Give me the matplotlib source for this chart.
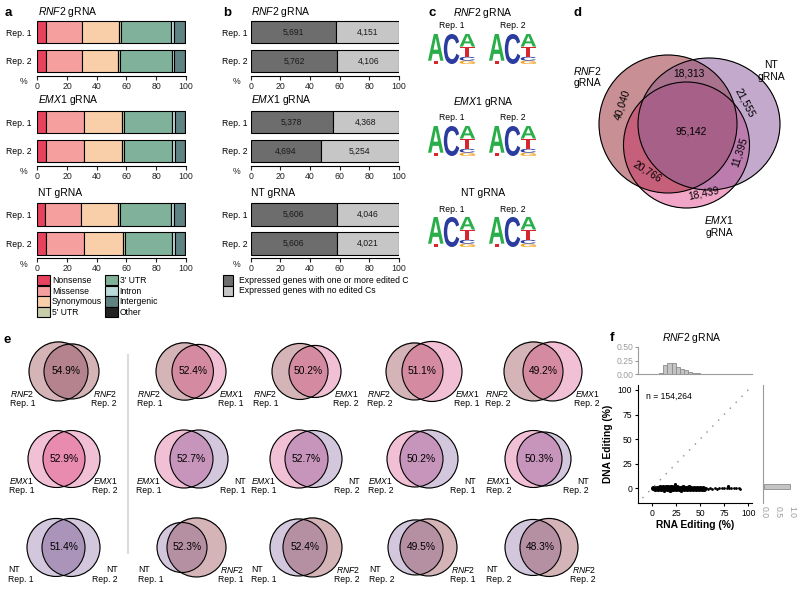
import numpy as np
import matplotlib.pyplot as plt
from matplotlib.patches import Rectangle, Ellipse, PathPatch
from matplotlib.textpath import TextPath
from matplotlib.font_manager import FontProperties
from matplotlib.transforms import Affine2D
from matplotlib.colors import to_rgba

plt.rcParams['font.family'] = ['Liberation Sans', 'DejaVu Sans']
plt.rcParams['mathtext.fontset'] = 'custom'
plt.rcParams['mathtext.it'] = 'Liberation Sans:italic'
plt.rcParams['mathtext.rm'] = 'Liberation Sans'
plt.rcParams['mathtext.bf'] = 'Liberation Sans:bold'

# ---------------- data ----------------
guides = ['RNF2', 'EMX1', 'NT']
reps = ['Rep. 1', 'Rep. 2']

# a: share (%) of edited Cs per annotation class, one row per replicate
categories = ['Nonsense', 'Missense', 'Synonymous', "5' UTR", "3' UTR", 'Intron', 'Intergenic', 'Other']
cat_colors = ['#E8435E', '#F5A09F', '#F9CFA9', '#C9CCA8', '#80B19B', '#BBDADA', '#5F8383', '#222222']
rnf2_annot = [[5.6, 24.5, 25.0, 1.5, 33.7, 1.8, 7.5, 0.4],
              [5.6, 24.3, 24.7, 1.4, 34.6, 1.8, 7.2, 0.4]]
emx1_annot = [[5.8, 25.4, 25.9, 1.6, 32.1, 1.8, 7.0, 0.4],
              [5.8, 25.4, 25.7, 1.5, 32.4, 1.8, 7.0, 0.4]]
nt_annot = [[5.2, 24.5, 24.7, 1.1, 34.8, 1.8, 7.5, 0.4],
            [5.8, 25.9, 25.8, 1.8, 31.7, 1.6, 7.0, 0.4]]

# b: expressed genes with / without edited C
rnf2_genes = [[5691, 4151], [5762, 4106]]
emx1_genes = [[5378, 4368], [4694, 5254]]
nt_genes = [[5606, 4046], [5606, 4021]]
gene_labels = ['Expressed genes with one or more edited C', 'Expressed genes with no edited Cs']
gene_colors = ['#6D6D6D', '#C6C6C6']

# c: sequence logo (letter, fraction), bottom to top
logo_pos1 = [('T', 0.11), ('A', 0.89)]
logo_pos2 = [('C', 1.0)]
logo_pos3 = [('G', 0.11), ('C', 0.13), ('T', 0.34), ('A', 0.42)]
base_colors = {'A': '#2AAE4A', 'C': '#2B3C9E', 'G': '#F5A11C', 'T': '#D7262D'}

# d: three-way overlap of edited sites
venn3_regions = ['RNF2', 'NT', 'EMX1', 'RNF2&NT', 'RNF2&EMX1', 'NT&EMX1', 'RNF2&NT&EMX1']
venn3_counts = [40040, 21555, 18439, 18313, 20766, 11395, 95142]

# e: pairwise overlaps (left set, right set, % overlap)
e_left = [('RNF2', 'Rep. 1'), ('RNF2', 'Rep. 1'), ('RNF2', 'Rep. 1'), ('RNF2', 'Rep. 2'), ('RNF2', 'Rep. 2'),
          ('EMX1', 'Rep. 1'), ('EMX1', 'Rep. 1'), ('EMX1', 'Rep. 1'), ('EMX1', 'Rep. 2'), ('EMX1', 'Rep. 2'),
          ('NT', 'Rep. 1'), ('NT', 'Rep. 1'), ('NT', 'Rep. 1'), ('NT', 'Rep. 2'), ('NT', 'Rep. 2')]
e_right = [('RNF2', 'Rep. 2'), ('EMX1', 'Rep. 1'), ('EMX1', 'Rep. 2'), ('EMX1', 'Rep. 1'), ('EMX1', 'Rep. 2'),
           ('EMX1', 'Rep. 2'), ('NT', 'Rep. 1'), ('NT', 'Rep. 2'), ('NT', 'Rep. 1'), ('NT', 'Rep. 2'),
           ('NT', 'Rep. 2'), ('RNF2', 'Rep. 1'), ('RNF2', 'Rep. 2'), ('RNF2', 'Rep. 1'), ('RNF2', 'Rep. 2')]
e_overlap = [54.9, 52.4, 50.2, 51.1, 49.2,
             52.9, 52.7, 52.7, 50.2, 50.3,
             51.4, 52.3, 52.4, 49.5, 48.3]

# f: RNA vs DNA editing, RNF2 gRNA
n_sites = 154264
rna_dense = [0.5, 2, 3.5, 5, 6.5, 8, 9.5, 11, 12.5, 14, 15.5, 17, 18.5, 20, 21.5, 23, 24.5, 26, 27.5,
             29, 30.5, 32, 33.5, 35, 36.5, 38, 39.5, 41, 42.5, 44, 45.5, 47, 48.5, 50, 51.5, 53, 54.5]
dna_dense = [0.0, 0.2, -0.5, 0.6, -0.9, 0.8, -1.1, 1.0, -1.2, 1.1, -1.2, 0.9, -1.3, 1.1, -1.0, 0.9,
             -1.2, 1.0, -0.9, 0.7, -1.1, 0.9, -0.8, 0.6, -1.0, 0.8, -0.7, 0.5, -0.9, 0.7, -0.6, 0.5,
             -0.8, 0.5, -0.5, 0.4, -0.6]
rna_tail = [56, 58, 60, 62.5, 65, 67.5, 70, 72.5, 75, 77.5, 80, 82.5, 85, 87.5, 90, 92]
dna_tail = [0.3, -0.4, 0.3, -0.3, 0.2, -0.3, 0.2, -0.2, 0.3, -0.2, 0.1, -0.2, 0.1, -0.1, 0.0, -0.4]
rna_out = [24, 79, 12, 20, 30]
dna_out = [4.8, 2.0, -2.6, 2.4, -2.4]
rna_hist_left = [7.6, 11.8, 16.0, 20.2, 24.4, 28.6, 32.8, 37.0, 41.2, 45.4, 49.6, 53.8, 58.0, 62.2,
                 66.4, 70.6, 74.8, 79.0, 83.2, 87.4]
rna_hist_frac = [0.03, 0.17, 0.215, 0.20, 0.14, 0.10, 0.078, 0.048, 0.03, 0.02, 0.014, 0.01, 0.008,
                 0.006, 0.005, 0.004, 0.003, 0.002, 0.002, 0.001]
dna_hist_center = [1.5]
dna_hist_frac = [0.95]

# ---------------- figure ----------------
W, H = 800, 593
fig = plt.figure(figsize=(8, 5.93), dpi=100)


def px_axes(x0, y0, x1, y1, **kw):
    return fig.add_axes([x0 / W, 1 - y1 / H, (x1 - x0) / W, (y1 - y0) / H], **kw)


def glabel(g):
    return 'NT' if g == 'NT' else r'$\mathit{' + g + '}$'


ov = px_axes(0, 0, W, H, zorder=5)
ov.set_facecolor('none')
ov.axis('off')

# panel letters
for lab, x, y in [('a', 8, 13), ('b', 227, 13), ('c', 432, 13), ('d', 578, 13), ('e', 7, 340), ('f', 612, 338)]:
    ov.text(x, y, lab, fontsize=9.5, fontweight='bold', ha='center', va='center')


def style_bar_axes(ax, pad):
    ax.set_xlim(0, 100)
    ax.set_ylim(1.5, -0.5)
    for s in ['top', 'right', 'left']:
        ax.spines[s].set_visible(False)
    ax.spines['bottom'].set_linewidth(0.8)
    ax.set_xticks(range(0, 101, 20))
    ax.tick_params(axis='x', length=3, width=0.8, labelsize=6.3, pad=1.5, colors='#222222')
    ax.set_yticks([0, 1])
    ax.set_yticklabels(reps)
    ax.tick_params(axis='y', length=0, labelsize=6.2, pad=pad)
    ax.patch.set_alpha(0)


offsets = [0, 90, 182.5]
title_y = [12, 100, 193]
annot_data = [rnf2_annot, emx1_annot, nt_annot]
gene_data = [rnf2_genes, emx1_genes, nt_genes]

# ---- a ----
for g, guide in enumerate(guides):
    top = 17.5 + offsets[g]
    ax = px_axes(37.3, top, 185.7, top + 58)
    style_bar_axes(ax, 4)
    vals = np.array(annot_data[g])
    left = np.zeros(2)
    for k in range(len(categories)):
        ax.barh([0, 1], vals[:, k], left=left, height=0.78, color=cat_colors[k],
                edgecolor='black', linewidth=0.8)
        left += vals[:, k]
    ov.text(38, title_y[g], glabel(guide) + ' gRNA', fontsize=7.5, va='center')
    ov.text(20, top + 64.5, '%', fontsize=6.3, va='center', color='#222222')

for k, lab in enumerate(categories):
    col, row = divmod(k, 4)
    bx = 37.3 if col == 0 else 105
    by = 275 + row * 10.6
    ov.add_patch(Rectangle((bx, by), 12.5, 10.3, fc=cat_colors[k], ec='black', lw=0.8))
    ov.text(bx + 14.5, by + 5.4, lab, va='center', fontsize=6.2)

# ---- b ----
for g, guide in enumerate(guides):
    top = 17.5 + offsets[g]
    ax = px_axes(250.7, top, 399, top + 58)
    style_bar_axes(ax, 2)
    counts = np.array(gene_data[g], dtype=float)
    pct = counts / counts.sum(axis=1, keepdims=True) * 100
    left = np.zeros(2)
    for k in range(2):
        ax.barh([0, 1], pct[:, k], left=left, height=0.78, color=gene_colors[k],
                edgecolor='black', linewidth=0.8)
        for r in range(2):
            ax.text(left[r] + pct[r, k] / 2, r, f'{int(counts[r, k]):,}', ha='center', va='center',
                    fontsize=6.2, color='#1A1A1A')
        left += pct[:, k]
    ov.text(251, title_y[g], glabel(guide) + ' gRNA', fontsize=7.5, va='center')
    ov.text(233, top + 64.5, '%', fontsize=6.3, va='center', color='#222222')

for k, lab in enumerate(gene_labels):
    by = 275 + k * 10.5
    ov.add_patch(Rectangle((222.7, by), 10.6, 10.5, fc=gene_colors[k], ec='black', lw=0.8))
    ov.text(239, by + 5.4, lab, va='center', fontsize=6.2)

# ---- c ----
logo_fp = FontProperties(family='Liberation Sans', weight='bold')


def draw_letter(ch, x, y_bot, w, h, color):
    tp = TextPath((0, 0), ch, size=100, prop=logo_fp)
    bb = tp.get_extents()
    tr = Affine2D().translate(-bb.x0, -bb.y0).scale(w / bb.width, -h / bb.height).translate(x, y_bot)
    ov.add_patch(PathPatch(tr.transform_path(tp), fc=color, ec='none', lw=0))


logo_tops = [34, 126, 217]
logo_title_y = [13, 102, 193]
logo_x0 = [428, 489]
col_w = 15.8
logo_h = 30
for g in range(3):
    t = logo_tops[g]
    ov.text(483, logo_title_y[g], glabel(guides[g]) + ' gRNA', ha='center', va='center', fontsize=7.5)
    for r in range(2):
        ov.text(logo_x0[r] + 23.5, t - 8, reps[r], ha='center', va='center', fontsize=6.2)
        for p, stack in enumerate([logo_pos1, logo_pos2, logo_pos3]):
            ybot = t + logo_h
            for base, frac in stack:
                h = frac * logo_h
                draw_letter(base, logo_x0[r] + p * col_w, ybot, col_w - 0.3, h, base_colors[base])
                ybot -= h


# ---- venn helper ----
def venn_image(shapes, region_colors, x0, x1, y0, y1, res=4):
    nx, ny = int((x1 - x0) * res), int((y1 - y0) * res)
    xs = x0 + (np.arange(nx) + 0.5) / res
    ys = y0 + (np.arange(ny) + 0.5) / res
    X, Y = np.meshgrid(xs, ys)
    code = np.zeros(X.shape, int)
    for i, (cx, cy, a, b) in enumerate(shapes):
        inside = ((X - cx) / a) ** 2 + ((Y - cy) / b) ** 2 <= 1
        code |= inside.astype(int) << i
    img = np.zeros(X.shape + (4,))
    for c, col in region_colors.items():
        img[code == c] = to_rgba(col)
    ov.imshow(img, extent=(x0, x1, y1, y0), origin='upper', interpolation='antialiased',
              aspect='auto', zorder=1)
    for (cx, cy, a, b) in shapes:
        ov.add_patch(Ellipse((cx, cy), 2 * a, 2 * b, fill=False, ec='black', lw=0.8, zorder=2))


# ---- d ----
venn3_shapes = [(668, 124, 69, 69), (709, 124, 71, 66), (686.5, 145, 63, 63)]
venn3_codes = [1, 2, 4, 3, 5, 6, 7]
venn3_fill = ['#C99194', '#C4A9CC', '#F3A6C7', '#A9738E', '#C6607A', '#BC7DAE', '#A86088']
venn_image(venn3_shapes, dict(zip(venn3_codes, venn3_fill)), 590, 790, 45, 215)
venn3_pos = [(622, 105, 72), (745, 103, -62), (704, 193, 12), (689, 74, 0),
             (647, 172, -32), (740, 152, 72), (691, 131, 0)]
for (x, y, rot), c in zip(venn3_pos, venn3_counts):
    ov.text(x, y, f'{c:,}', ha='center', va='center', rotation=rot, fontsize=7.4, zorder=3)
for (x, y), g in zip([(587, 71), (771, 65), (719, 220)], ['RNF2', 'NT', 'EMX1']):
    ov.text(x, y, glabel(g), ha='center', va='center', fontsize=7.5)
    ov.text(x, y + 12.5, 'gRNA', ha='center', va='center', fontsize=7.5)

# ---- e ----
e_single = {'RNF2': '#D6B4B8', 'EMX1': '#F3C1D6', 'NT': '#D3C7DD'}
e_both = {('RNF2', 'RNF2'): '#B4838D', ('EMX1', 'EMX1'): '#E88BB0', ('NT', 'NT'): '#AB94BA',
          ('EMX1', 'RNF2'): '#D48BA2', ('EMX1', 'NT'): '#C796BC', ('NT', 'RNF2'): '#B591A2'}
e_row_y = [371.5, 459, 547.5]
e_geom = [(58.5, 29.5, 71.5, 27.5), (184.7, 28.7, 199, 27), (300, 28, 315, 26), (414.5, 28.5, 432, 30),
          (533.5, 29.5, 552.5, 29.5),
          (56.5, 28.5, 71.5, 28.5), (184, 29, 199, 29), (299, 29, 313.5, 28.5), (415, 28, 429, 29),
          (533.5, 28.5, 544, 27),
          (56, 29, 71, 29), (182, 25, 196.5, 29.5), (298.5, 28.5, 312.5, 29.5), (415.5, 27.5, 428.5, 28.5),
          (533, 28, 549, 29)]
for i in range(15):
    cy = e_row_y[i // 5]
    lcx, lr, rcx, rr = e_geom[i]
    lg, rg = e_left[i][0], e_right[i][0]
    cols = {1: e_single[lg], 2: e_single[rg], 3: e_both[tuple(sorted([lg, rg]))]}
    venn_image([(lcx, cy, lr, lr), (rcx, cy, rr, rr)], cols,
               lcx - lr - 2, rcx + rr + 2, cy - 33, cy + 33)
    ov.text((rcx - rr + lcx + lr) / 2, cy, f'{e_overlap[i]}%', ha='center', va='center',
            fontsize=7.4, zorder=3)
    lx, rx = lcx - lr - 19, rcx + rr + 18
    ov.text(lx, cy + 22.5, glabel(lg), ha='left', va='center', fontsize=6.2)
    ov.text(lx, cy + 31.5, e_left[i][1], ha='left', va='center', fontsize=6.2)
    ov.text(rx, cy + 22.5, glabel(rg), ha='right', va='center', fontsize=6.2)
    ov.text(rx, cy + 31.5, e_right[i][1], ha='right', va='center', fontsize=6.2)
ov.plot([128, 128], [355, 553], color='#DCDCDC', lw=1.5)

# ---- f ----
grey = '#9A9A9A'
ov.text(692, 338, glabel('RNF2') + ' gRNA', ha='center', va='center', fontsize=7.5)

axs = px_axes(637.7, 385, 752, 503)
axs.scatter(rna_dense, dna_dense, s=13, color='black', lw=0)
axs.scatter(rna_tail, dna_tail, s=4, color='black', lw=0)
axs.scatter(rna_out, dna_out, s=5, color='black', lw=0)
axs.plot([-10, 101], [-10, 101], ls=(0, (1, 5)), color='#8C8C8C', lw=1)
axs.set_xlim(-15, 104)
axs.set_ylim(-15, 105)
axs.set_xticks([0, 25, 50, 75, 100])
axs.set_yticks([0, 25, 50, 75, 100])
for s in ['top', 'right']:
    axs.spines[s].set_visible(False)
axs.spines['left'].set_linewidth(0.8)
axs.spines['bottom'].set_linewidth(0.8)
axs.tick_params(length=2.5, width=0.8, labelsize=6.2, pad=1.5)
axs.set_xlabel('RNA Editing (%)', fontsize=7.4, fontweight='bold', labelpad=2)
axs.set_ylabel('DNA Editing (%)', fontsize=7.4, fontweight='bold', labelpad=3)
axs.text(-6, 93, f'n = {n_sites:,}', fontsize=6.2, va='center')
axs.patch.set_alpha(0)

axt = px_axes(637.7, 347, 752, 374.3)
axt.bar(rna_hist_left, rna_hist_frac, width=4.2, align='edge', color='#C4C4C4',
        edgecolor='#8C8C8C', linewidth=0.6)
axt.set_xlim(-15, 104)
axt.set_ylim(0, 0.5)
axt.set_yticks([0, 0.25, 0.5])
axt.set_yticklabels(['0.00', '0.25', '0.50'])
axt.set_xticks([])
for s in ['top', 'right']:
    axt.spines[s].set_visible(False)
for s in ['left', 'bottom']:
    axt.spines[s].set_color(grey)
    axt.spines[s].set_linewidth(0.8)
axt.tick_params(axis='y', length=2, color=grey, labelcolor=grey, labelsize=6.2, pad=1)
axt.patch.set_alpha(0)

axr = px_axes(762.7, 385, 793, 503)
axr.barh(dna_hist_center, dna_hist_frac, height=5, color='#C4C4C4', edgecolor='#8C8C8C', linewidth=0.6)
axr.set_ylim(-15, 105)
axr.set_xlim(-0.05, 1.05)
axr.set_xticks([0, 0.5, 1.0])
axr.set_xticklabels(['0.0', '0.5', '1.0'], rotation=-90)
axr.set_yticks([])
for s in ['top', 'right', 'bottom']:
    axr.spines[s].set_visible(False)
axr.spines['left'].set_color(grey)
axr.spines['left'].set_linewidth(0.8)
axr.tick_params(axis='x', length=0, labelcolor=grey, labelsize=6.2, pad=2)
axr.patch.set_alpha(0)

ov.set_xlim(0, W)
ov.set_ylim(H, 0)

fig.savefig('out.png', dpi=100)
